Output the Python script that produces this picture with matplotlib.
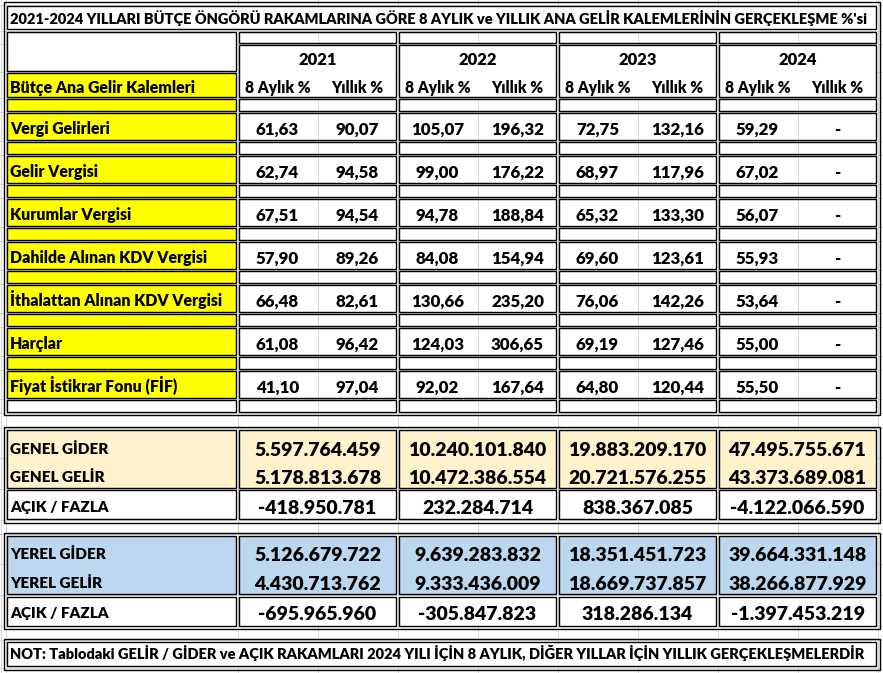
import matplotlib
matplotlib.use('Agg')
import matplotlib.pyplot as plt
from matplotlib.patches import Rectangle

FONT = ['Lato', 'DejaVu Sans']
WEIGHT = 'heavy'

# ---- data ----
title = "2021-2024 YILLARI BÜTÇE ÖNGÖRÜ RAKAMLARINA GÖRE 8 AYLIK ve YILLIK ANA GELİR KALEMLERİNİN GERÇEKLEŞME %'si"
header_label = 'Bütçe Ana Gelir Kalemleri'
years = ['2021', '2022', '2023', '2024']
sub_headers = ['8 Aylık %', 'Yıllık %']
items = ['Vergi Gelirleri', 'Gelir Vergisi', 'Kurumlar Vergisi', 'Dahilde Alınan KDV Vergisi',
         'İthalattan Alınan KDV Vergisi', 'Harçlar', 'Fiyat İstikrar Fonu (FİF)']

aylik8_2021 = [61.63, 62.74, 67.51, 57.90, 66.48, 61.08, 41.10]
yillik_2021 = [90.07, 94.58, 94.54, 89.26, 82.61, 96.42, 97.04]
aylik8_2022 = [105.07, 99.00, 94.78, 84.08, 130.66, 124.03, 92.02]
yillik_2022 = [196.32, 176.22, 188.84, 154.94, 235.20, 306.65, 167.64]
aylik8_2023 = [72.75, 68.97, 65.32, 69.60, 76.06, 69.19, 64.80]
yillik_2023 = [132.16, 117.96, 133.30, 123.61, 142.26, 127.46, 120.44]
aylik8_2024 = [59.29, 67.02, 56.07, 55.93, 53.64, 55.00, 55.50]
yillik_2024 = [None] * 7   # shown as '-'

genel_gider = [5597764459, 10240101840, 19883209170, 47495755671]
genel_gelir = [5178813678, 10472386554, 20721576255, 43373689081]
genel_acik = [-418950781, 232284714, 838367085, -4122066590]
yerel_gider = [5126679722, 9639283832, 18351451723, 39664331148]
yerel_gelir = [4430713762, 9333436009, 18669737857, 38266877929]
yerel_acik = [-695965960, -305847823, 318286134, -1397453219]

note = 'NOT: Tablodaki GELİR / GİDER ve AÇIK RAKAMLARI 2024 YILI İÇİN 8 AYLIK, DİĞER YILLAR İÇİN YILLIK GERÇEKLEŞMELERDİR'

pct_cols = [(aylik8_2021, yillik_2021), (aylik8_2022, yillik_2022),
            (aylik8_2023, yillik_2023), (aylik8_2024, yillik_2024)]

YELLOW = '#FFFF00'
BEIGE = '#FFF2CC'
BLUE = '#BDD7EE'
GRID = '#D6D6D6'


def fmt_pct(v):
    if v is None:
        return '-'
    return f'{v:.2f}'.replace('.', ',')


def fmt_num(v):
    return f'{v:,}'.replace(',', '.')


# ---- figure in pixel coordinates ----
fig = plt.figure(figsize=(8.83, 6.73), dpi=100)
ax = fig.add_axes([0, 0, 1, 1])
ax.set_xlim(0, 883)
ax.set_ylim(673, 0)
ax.axis('off')
renderer = fig.canvas.get_renderer()

col_x = [6, 237.5, 317.5, 397.5, 477.5, 557.5, 637.5, 717.5, 797.5, 877.5]
G = 1.2  # inset of a cell border


def box(x0, x1, y0, y1, fc='none', z=2):
    ax.add_patch(Rectangle((x0 + G, y0 + G), x1 - x0 - 2 * G, y1 - y0 - 2 * G,
                           facecolor=fc, edgecolor='black', lw=1.0, zorder=z))


def frame(x0, x1, y0, y1):
    ax.add_patch(Rectangle((x0 - G, y0 - G), x1 - x0 + 2 * G, y1 - y0 + 2 * G,
                           facecolor='none', edgecolor='black', lw=1.0, zorder=3))


def fit(s, width):
    t = ax.text(0, 0, s, fontsize=10, fontweight=WEIGHT, family=FONT)
    w = t.get_window_extent(renderer).width
    t.remove()
    return 10 * width / w


def txt(x, y, s, size, ha='center'):
    # y is the middle of the capitals, as measured on the sheet
    base = y + 0.358 * size * 100 / 72
    ax.text(x, base, s, fontsize=size, fontweight=WEIGHT, family=FONT,
            ha=ha, va='baseline', color='black', zorder=5)


fs_title = fit(title, 858)
fs_label = fit('Dahilde Alınan KDV Vergisi', 197)
fs_sub = fit('8 Aylık %', 66)
fs_year = fit('2021', 38)
fs_val = fit('196,32', 53)
fs_big = fit('19.883.209.170', 138)
fs_low = fit('GENEL GİDER', 98)
fs_note = fit(note, 860)

# excel grid lines in the background
row_y = [4.5, 30.5, 44, 72, 98]
for i in range(7):
    row_y += [112 + 43 * i, 141 + 43 * i]
row_y += [413, 428, 458, 489, 520, 534, 564, 595, 626, 640, 668]
for x in [1] + col_x:
    ax.axvline(x, color=GRID, lw=0.7, zorder=0)
for y in row_y:
    ax.axhline(y, color=GRID, lw=0.7, zorder=0)

# ---- top table ----
box(col_x[0], col_x[-1], 4.5, 30.5, 'white')
txt(10, 19, title, fs_title, ha='left')

box(col_x[0], col_x[1], 30.5, 72, 'white')
box(col_x[0], col_x[1], 72, 98, YELLOW)
txt(10, 87, header_label, fs_label, ha='left')

for k, yr in enumerate(years):
    x0, xm, x1 = col_x[1 + 2 * k], col_x[2 + 2 * k], col_x[3 + 2 * k]
    box(x0, x1, 30.5, 44)
    box(x0, x1, 44, 98, 'white')
    txt((x0 + x1) / 2, 59, yr, fs_year)
    txt((x0 + xm) / 2, 87, sub_headers[0], fs_sub)
    txt((xm + x1) / 2, 87, sub_headers[1], fs_sub)

for i, name in enumerate(items):
    yb0 = 98 + 43 * i
    yd0, yd1 = yb0 + 14, yb0 + 43
    box(col_x[0], col_x[1], yb0, yd0, YELLOW)
    box(col_x[0], col_x[1], yd0, yd1, YELLOW)
    yc = (yd0 + yd1) / 2 + 2
    txt(10, yc, name, fs_label, ha='left')
    for k in range(4):
        x0, xm, x1 = col_x[1 + 2 * k], col_x[2 + 2 * k], col_x[3 + 2 * k]
        box(x0, x1, yb0, yd0)
        box(x0, x1, yd0, yd1)
        a8, yl = pct_cols[k]
        txt((x0 + xm) / 2, yc, fmt_pct(a8[i]), fs_val)
        txt((xm + x1) / 2, yc, fmt_pct(yl[i]), fs_val)

box(col_x[0], col_x[1], 399, 413, 'white')
for k in range(4):
    box(col_x[1 + 2 * k], col_x[3 + 2 * k], 399, 413)
frame(col_x[0] - 1.2, col_x[-1] + 1.2, 3.3, 414.2)


# ---- lower blocks: genel / yerel ----
def money_block(y0, ym, y1, fc, lab_gider, lab_gelir, gider, gelir, acik, ys):
    box(col_x[0], col_x[1], y0, ym, fc)
    box(col_x[0], col_x[1], ym, y1, 'white')
    txt(10, ys[0], lab_gider, fs_low, ha='left')
    txt(10, ys[1], lab_gelir, fs_low, ha='left')
    txt(10, ys[2], 'AÇIK / FAZLA', fs_low, ha='left')
    for k in range(4):
        x0, x1 = col_x[1 + 2 * k], col_x[3 + 2 * k]
        box(x0, x1, y0, ym, fc)
        box(x0, x1, ym, y1, 'white')
        xc = (x0 + x1) / 2
        txt(xc, ys[0], fmt_num(gider[k]), fs_big)
        txt(xc, ys[1], fmt_num(gelir[k]), fs_big)
        txt(xc, ys[2], fmt_num(acik[k]), fs_big)
    frame(col_x[0] - 1.2, col_x[-1] + 1.2, y0 - 1.2, y1 + 1.2)


money_block(429, 489, 520.5, BEIGE, 'GENEL GİDER', 'GENEL GELİR',
            genel_gider, genel_gelir, genel_acik, [449, 477, 507])
money_block(535, 595.5, 627, BLUE, 'YEREL GİDER', 'YEREL GELİR',
            yerel_gider, yerel_gelir, yerel_acik, [554, 583, 613])

box(col_x[0], col_x[-1], 641, 667.5, 'white')
frame(col_x[0] - 1.2, col_x[-1] + 1.2, 639.8, 668.7)
txt(10, 654, note, fs_note, ha='left')

fig.savefig('out.png', dpi=100, facecolor='white')
